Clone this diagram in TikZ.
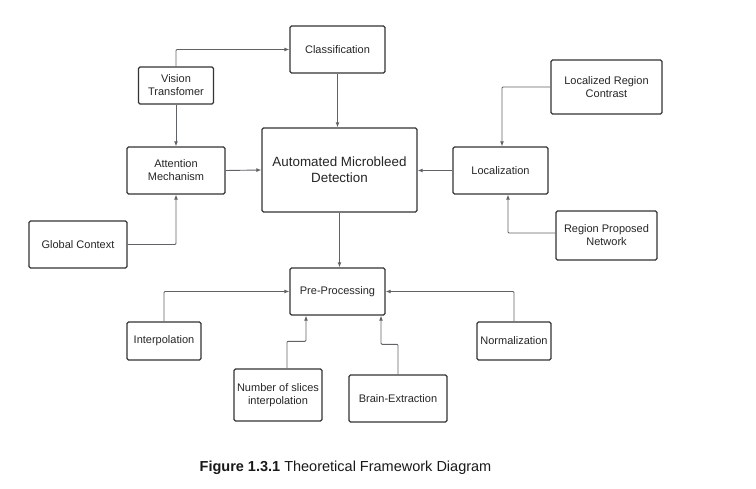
\documentclass[tikz,border=0pt]{standalone}
\usepackage{fontspec}
\setmainfont{Liberation Sans}
\usetikzlibrary{arrows.meta}
\definecolor{boxline}{HTML}{333333}
\definecolor{linkline}{HTML}{5F6368}
\begin{document}
\begin{tikzpicture}[
        x=1pt, y=-1pt,
        box/.style={rectangle, draw=boxline, line width=1.3pt, rounded corners=1.5pt, fill=white,
            inner sep=0pt, align=center, font=\fontsize{11}{13}\selectfont, text=black!85},
        link/.style={draw=linkline, line width=0.9pt, rounded corners=1pt,
            -{Latex[length=5pt,width=4pt]}}
    ]
    \useasboundingbox (0,0) rectangle (756,489);
    % centre
    \node[box, minimum width=155pt, minimum height=84pt, font=\fontsize{13.4}{16}\selectfont] (amd) at (339.5,170) {Automated Microbleed\\Detection};
    % upper left
    \node[box, minimum width=95pt, minimum height=47pt] (cls) at (337.5,49.5) {Classification};
    \node[box, minimum width=75pt, minimum height=37pt] (vit) at (176,85.5) {Vision\\Transfomer};
    \node[box, minimum width=98pt, minimum height=47pt] (att) at (176,170.5) {Attention\\Mechanism};
    \node[box, minimum width=98pt, minimum height=47pt] (glob) at (78,244.5) {Global Context};
    % right
    \node[box, minimum width=95pt, minimum height=47pt] (loc) at (500.5,170.5) {Localization};
    \node[box, minimum width=111pt, minimum height=54pt] (lrc) at (606.5,87) {Localized Region\\Contrast};
    \node[box, minimum width=101pt, minimum height=49pt] (rpn) at (606.5,235.5) {Region Proposed\\Network};
    % lower
    \node[box, minimum width=95pt, minimum height=47pt] (pre) at (337.5,291.5) {Pre-Processing};
    \node[box, minimum width=74pt, minimum height=38pt] (interp) at (164,341) {Interpolation};
    \node[box, minimum width=88pt, minimum height=52pt] (nos) at (278,395) {Number of slices\\interpolation};
    \node[box, minimum width=98pt, minimum height=47pt] (brain) at (398,398.5) {Brain-Extraction};
    \node[box, minimum width=74pt, minimum height=38pt] (norm) at (514,341) {Normalization};
    % connectors
    \draw[link] (vit.north) |- (cls.west);
    \draw[link] (vit.south) -- (att.north);
    \draw[link] (att.east) -- (amd.west);
    \draw[link] (cls.south) -- (amd.north -| cls.south);
    \draw[link] (glob.east) -| (att.south);
    \draw[link] (loc.west) -- (amd.east |- loc.west);
    \draw[link] (lrc.west) -| ([xshift=1.5pt]loc.north);
    \draw[link] ([yshift=2.5pt]rpn.west) -| ([xshift=7.5pt]loc.south);
    \draw[link] (amd.south) -- (pre.north -| amd.south);
    \draw[link] (interp.north) |- (pre.west);
    \draw[link] ([xshift=9pt]nos.north) -- ++(0,-27) -| ([xshift=-31.5pt]pre.south);
    \draw[link] (brain.north) -- ++(0,-30) -| ([xshift=43.5pt]pre.south);
    \draw[link] (norm.north) |- (pre.east);
    % caption
    \node[font=\fontsize{14.5}{17}\selectfont, text=black!90] (cap) at (345.5,468) {\textbf{Figure 1.3.1} Theoretical Framework Diagram};
\end{tikzpicture}
\end{document}
